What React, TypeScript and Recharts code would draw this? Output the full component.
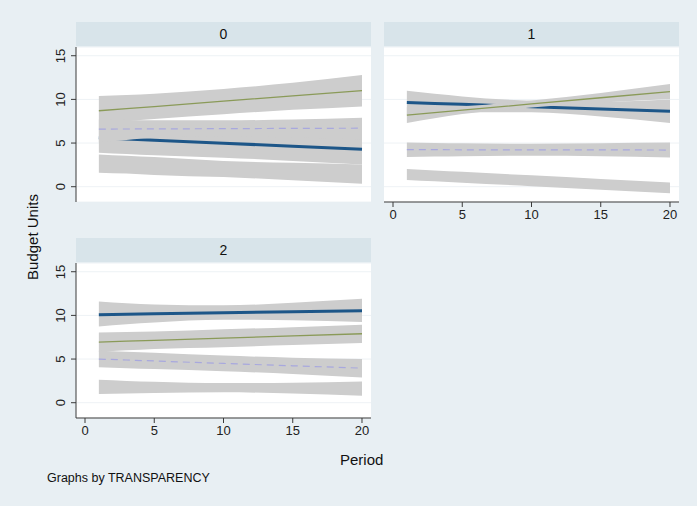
import React from 'react';
import { ComposedChart, Area, Line, XAxis, YAxis, CartesianGrid } from 'recharts';

const periods = [1, 3, 5, 10, 15, 20];
const xTicks = [0, 5, 10, 15, 20];
const yTicks = [0, 5, 10, 15];
const panelTitles = ['0', '1', '2'];
const yTitle = 'Budget Units';
const xTitle = 'Period';
const note = 'Graphs by TRANSPARENCY';

// Each entry: [lower CI, fitted value, upper CI] at the matching period
const p0Blue = [[3.9, 5.6, 7.3], [3.75, 5.47, 7.15], [3.6, 5.33, 7.0], [3.33, 4.98, 6.6], [2.95, 4.64, 6.3], [2.55, 4.3, 6.05]];
const p0Low = [[1.6, 2.65, 3.7], [1.5, 2.52, 3.55], [1.35, 2.4, 3.4], [1.1, 2.03, 2.95], [0.75, 1.75, 2.75], [0.35, 1.45, 2.55]];
const p0Olive = [[7.3, 8.7, 10.4], [7.5, 8.94, 10.5], [7.75, 9.18, 10.65], [8.3, 9.8, 11.2], [8.8, 10.4, 11.9], [9.2, 11.0, 12.8]];
const p0Dash = [[5.1, 6.6, 7.7], [5.35, 6.61, 7.65], [5.6, 6.62, 7.62], [5.75, 6.65, 7.6], [5.65, 6.68, 7.7], [5.4, 6.7, 7.9]];

const p1Blue = [[8.3, 9.65, 11.0], [8.44, 9.54, 10.64], [8.54, 9.44, 10.34], [8.52, 9.17, 9.85], [8.05, 8.9, 9.75], [7.3, 8.64, 10.0]];
const p1Low = [[0.78, 1.4, 2.02], [0.62, 1.24, 1.86], [0.46, 1.08, 1.7], [0.06, 0.68, 1.3], [-0.35, 0.27, 0.89], [-0.75, -0.13, 0.49]];
const p1Olive = [[7.3, 8.2, 9.1], [7.83, 8.48, 9.13], [8.32, 8.77, 9.22], [9.08, 9.48, 9.88], [9.64, 10.19, 10.74], [10.05, 10.9, 11.75]];
const p1Dash = [[3.4, 4.24, 5.05], [3.45, 4.24, 5.0], [3.5, 4.23, 4.97], [3.55, 4.23, 4.92], [3.5, 4.22, 4.97], [3.35, 4.2, 5.05]];

const p2Blue = [[8.74, 10.08, 11.6], [9.0, 10.13, 11.4], [9.2, 10.18, 11.25], [9.5, 10.3, 11.15], [9.45, 10.42, 11.45], [9.24, 10.54, 11.9]];
const p2Low = [[1.0, 1.8, 2.63], [1.05, 1.78, 2.5], [1.1, 1.76, 2.4], [1.2, 1.7, 2.25], [1.05, 1.65, 2.3], [0.8, 1.6, 2.44]];
const p2Olive = [[5.85, 6.95, 8.05], [6.0, 7.05, 8.1], [6.15, 7.15, 8.15], [6.35, 7.4, 8.4], [6.6, 7.65, 8.65], [6.84, 7.9, 8.93]];
const p2Dash = [[4.05, 5.0, 5.95], [3.95, 4.89, 5.83], [3.85, 4.78, 5.71], [3.6, 4.5, 5.4], [3.3, 4.23, 5.16], [2.9, 3.96, 5.0]];

const FONT = '"Liberation Sans", Arial, Helvetica, sans-serif';
const BG = '#e8eff3';
const STRIP = '#d8e4ea';
const BAND = '#cdcdcd';
const BLUE = '#1d5688';
const OLIVE = '#8a9a58';
const DASH = '#a8a8de';
const AXIS = '#3a3a3a';

const X_DOMAIN: [number, number] = [-0.65, 20.65];
const Y_DOMAIN: [number, number] = [-1.75, 16];
const PLOT_W = 295;
const PLOT_H = 155;
const Y_AXIS_W = 36;
const X_AXIS_H = 30;

type Triple = number[][];

function buildData(blue: Triple, low: Triple, olive: Triple, dash: Triple) {
  return periods.map((x, i) => ({
    x,
    blueBand: [blue[i][0], blue[i][2]],
    blue: blue[i][1],
    lowBand: [low[i][0], low[i][2]],
    oliveBand: [olive[i][0], olive[i][2]],
    olive: olive[i][1],
    dashBand: [dash[i][0], dash[i][2]],
    dash: dash[i][1],
  }));
}

const YTick = (props: any) => {
  const { x, y, payload } = props;
  return (
    <text
      x={x}
      y={y}
      transform={`rotate(-90 ${x} ${y})`}
      textAnchor="middle"
      fontSize={13}
      fill="#222"
      fontFamily={FONT}
    >
      {payload.value}
    </text>
  );
};

function band(key: string) {
  return (
    <Area
      key={key}
      dataKey={key}
      type="monotone"
      stroke="none"
      fill={BAND}
      fillOpacity={1}
      isAnimationActive={false}
      activeDot={false}
      dot={false}
    />
  );
}

function fitLine(key: string, color: string, width: number, dash?: string) {
  return (
    <Line
      key={key}
      dataKey={key}
      type="linear"
      stroke={color}
      strokeWidth={width}
      strokeDasharray={dash}
      isAnimationActive={false}
      activeDot={false}
      dot={false}
    />
  );
}

type LayerProps = {
  showY: boolean;
  showX: boolean;
  data: any[];
  base: boolean;
};

function Layer({ showY, showX, data, base }: LayerProps) {
  const width = PLOT_W + (showY ? Y_AXIS_W : 0);
  const height = PLOT_H + (showX ? X_AXIS_H : 0);
  const axisVisible = base;
  return (
    <div style={{ position: 'absolute', left: 0, top: 0 }}>
      <ComposedChart
        width={width}
        height={height}
        data={data}
        margin={{ top: 0, right: 0, bottom: 0, left: 0 }}
      >
        {base && <CartesianGrid fill="#ffffff" stroke="#eef2f5" vertical={false} />}
        <XAxis
          dataKey="x"
          type="number"
          domain={X_DOMAIN}
          ticks={xTicks}
          allowDataOverflow
          hide={!showX}
          height={X_AXIS_H}
          tickSize={5}
          tickMargin={3}
          stroke={AXIS}
          axisLine={axisVisible}
          tickLine={axisVisible}
          tick={axisVisible ? { fontSize: 13, fill: '#222', fontFamily: FONT } : false}
        />
        <YAxis
          type="number"
          domain={Y_DOMAIN}
          ticks={yTicks}
          allowDataOverflow
          hide={!showY}
          width={Y_AXIS_W}
          tickSize={5}
          tickMargin={6}
          stroke={AXIS}
          axisLine={axisVisible}
          tickLine={axisVisible}
          tick={axisVisible ? <YTick /> : false}
        />
        {base ? band('blueBand') : band('lowBand')}
        {base ? fitLine('blue', BLUE, 3) : band('oliveBand')}
        {!base && band('dashBand')}
        {!base && fitLine('olive', OLIVE, 1.3)}
        {!base && fitLine('dash', DASH, 1.2, '7 5')}
      </ComposedChart>
    </div>
  );
}

type PanelProps = {
  left: number;
  top: number;
  showY: boolean;
  showX: boolean;
  data: any[];
};

function Panel({ left, top, showY, showX, data }: PanelProps) {
  return (
    <div style={{ position: 'absolute', left, top }}>
      <Layer showY={showY} showX={showX} data={data} base />
      <Layer showY={showY} showX={showX} data={data} base={false} />
    </div>
  );
}

function Strip({ left, top, label }: { left: number; top: number; label: string }) {
  return (
    <div
      style={{
        position: 'absolute',
        left,
        top,
        width: PLOT_W,
        height: 24,
        lineHeight: '24px',
        background: STRIP,
        textAlign: 'center',
        fontFamily: FONT,
        fontSize: 14,
        color: '#111',
      }}
    >
      {label}
    </div>
  );
}

export default function App() {
  const d0 = buildData(p0Blue, p0Low, p0Olive, p0Dash);
  const d1 = buildData(p1Blue, p1Low, p1Olive, p1Dash);
  const d2 = buildData(p2Blue, p2Low, p2Olive, p2Dash);
  return (
    <div
      style={{
        position: 'fixed',
        left: 0,
        top: 0,
        width: 697,
        height: 506,
        background: BG,
        overflow: 'hidden',
      }}
    >
      <style>{'body{margin:0}'}</style>
      <Strip left={76} top={22} label={panelTitles[0]} />
      <Strip left={384} top={22} label={panelTitles[1]} />
      <Strip left={76} top={238} label={panelTitles[2]} />
      <Panel left={40} top={47} showY showX={false} data={d0} />
      <Panel left={384} top={47} showY={false} showX data={d1} />
      <Panel left={40} top={263} showY showX data={d2} />
      <div
        style={{
          position: 'absolute',
          left: 33 - 60,
          top: 237 - 10,
          width: 120,
          height: 20,
          lineHeight: '20px',
          textAlign: 'center',
          transform: 'rotate(-90deg)',
          fontFamily: FONT,
          fontSize: 15,
          color: '#111',
        }}
      >
        {yTitle}
      </div>
      <div
        style={{
          position: 'absolute',
          left: 340,
          top: 450,
          fontFamily: FONT,
          fontSize: 15,
          lineHeight: '20px',
          color: '#111',
        }}
      >
        {xTitle}
      </div>
      <div
        style={{
          position: 'absolute',
          left: 47,
          top: 470,
          fontFamily: FONT,
          fontSize: 12.5,
          lineHeight: '16px',
          color: '#111',
        }}
      >
        {note}
      </div>
    </div>
  );
}
